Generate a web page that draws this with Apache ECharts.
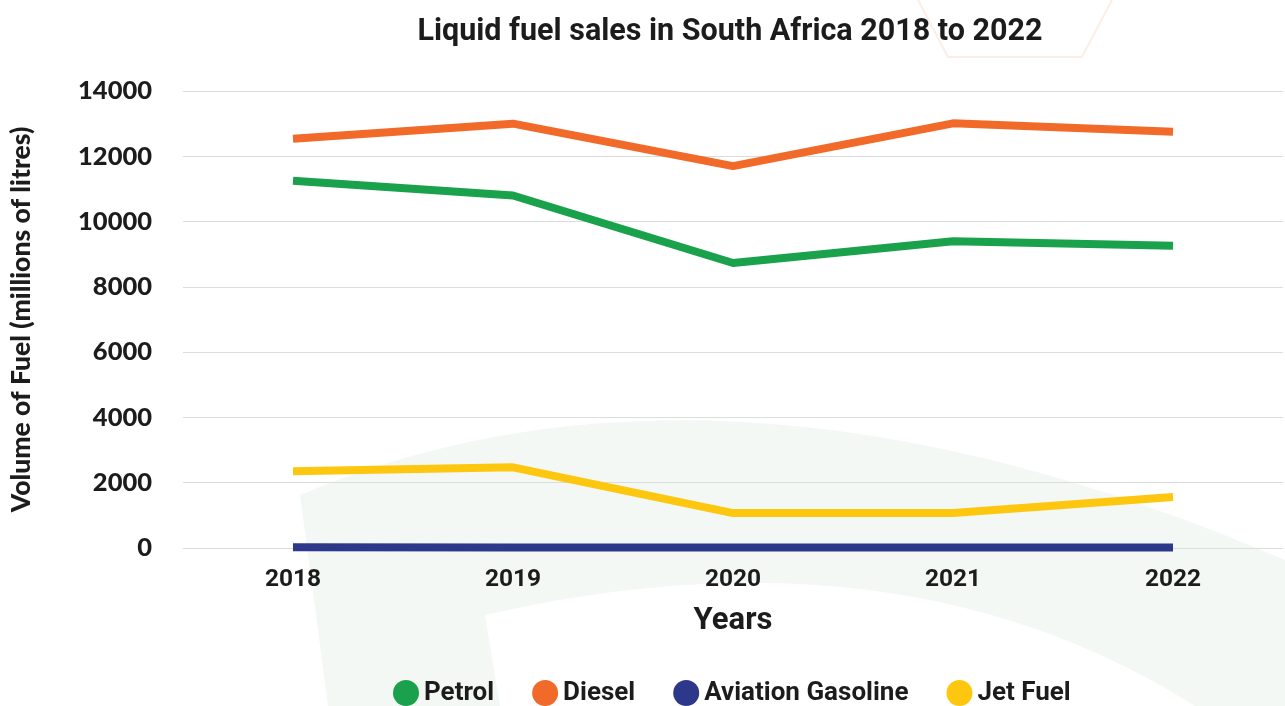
<!DOCTYPE html>
<html><head><meta charset="utf-8">
<script src="https://cdn.jsdelivr.net/npm/echarts@6/dist/echarts.min.js"></script>
<style>html,body{margin:0;padding:0;background:#fff}#c{width:1285px;height:706px}</style>
</head><body><div id="c"></div>
<script>
const years = ['2018','2019','2020','2021','2022'];
const petrol = [11250, 10800, 8730, 9400, 9260];
const diesel = [12540, 13000, 11700, 13010, 12750];
const avgas = [20, 18, 12, 14, 16];
const jetFuel = [2350, 2470, 1070, 1070, 1560];
const yTicks = [0, 2000, 4000, 6000, 8000, 10000, 12000, 14000];

// decorative background band (not data)
function quad(p0, c, p1, n) {
  const out = [];
  for (let i = 0; i <= n; i++) {
    const t = i / n, u = 1 - t;
    out.push([u*u*p0[0] + 2*u*t*c[0] + t*t*p1[0], u*u*p0[1] + 2*u*t*c[1] + t*t*p1[1]]);
  }
  return out;
}
const bandPts = [].concat(
  quad([300,495],[720,318],[1285,560],40),
  [[1285,706],[1195,706]],
  quad([1195,706],[900,520],[485,615],40),
  [[500,706],[328,706]]
);

const chart = echarts.init(document.getElementById('c'));
const condensed = 'Roboto,"Noto Sans",sans-serif';
const geo = 'Lato,"Open Sans",sans-serif';
chart.setOption({
  backgroundColor: '#ffffff',
  animation: false,
  graphic: [
    { type: 'polygon', z: -10, silent: true,
      shape: { points: bandPts },
      style: { fill: '#f3f8f5' } },
    { type: 'polyline', z: -10, silent: true,
      shape: { points: [[918,0],[948,57],[1082,57],[1112,0]] },
      style: { stroke: '#fbeee6', lineWidth: 2, fill: null } }
  ],
  title: {
    text: 'Liquid fuel sales in South Africa 2018 to 2022',
    left: 725, top: 12, textAlign: 'center',
    textStyle: { fontFamily: condensed, fontWeight: 'bold', fontSize: 30.5, color: '#1c1c1c' }
  },
  legend: {
    top: 675, left: 388, icon: 'circle', itemWidth: 26, itemHeight: 26, itemGap: 38,
    textStyle: { fontFamily: condensed, fontWeight: 'bold', fontSize: 26, color: '#1c1c1c' },
    data: ['Petrol','Diesel','Aviation Gasoline','Jet Fuel']
  },
  grid: { left: 173, right: 2, top: 91, bottom: 158 },
  xAxis: {
    type: 'category', data: years, boundaryGap: true,
    name: 'Years', nameLocation: 'middle', nameGap: 58,
    nameTextStyle: { fontFamily: condensed, fontWeight: 'bold', fontSize: 31, color: '#1c1c1c' },
    axisLine: { show: false }, axisTick: { show: false },
    axisLabel: { margin: 19, fontFamily: condensed, fontWeight: 'bold', fontSize: 24.5, color: '#1c1c1c' }
  },
  yAxis: {
    type: 'value', min: yTicks[0], max: yTicks[yTicks.length-1], interval: 2000,
    name: 'Volume of Fuel (millions of litres)', nameLocation: 'middle', nameGap: 148,
    nameTextStyle: { fontFamily: geo, fontWeight: 900, fontSize: 26.5, color: '#1c1c1c' },
    axisLine: { show: false }, axisTick: { show: false },
    axisLabel: { margin: 31, fontFamily: geo, fontWeight: 900, fontSize: 25.5, color: '#1c1c1c',
      formatter: v => String(v) },
    splitLine: { lineStyle: { color: '#dcdcdc', width: 1 } }
  },
  series: [
    { name: 'Petrol', type: 'line', data: petrol, showSymbol: false, color: '#1aa14b', lineStyle: { width: 8 } },
    { name: 'Diesel', type: 'line', data: diesel, showSymbol: false, color: '#f26a2a', lineStyle: { width: 8 } },
    { name: 'Aviation Gasoline', type: 'line', data: avgas, showSymbol: false, color: '#2d388a', lineStyle: { width: 8 } },
    { name: 'Jet Fuel', type: 'line', data: jetFuel, showSymbol: false, color: '#fdc70f', lineStyle: { width: 8 } }
  ]
});
</script></body></html>
